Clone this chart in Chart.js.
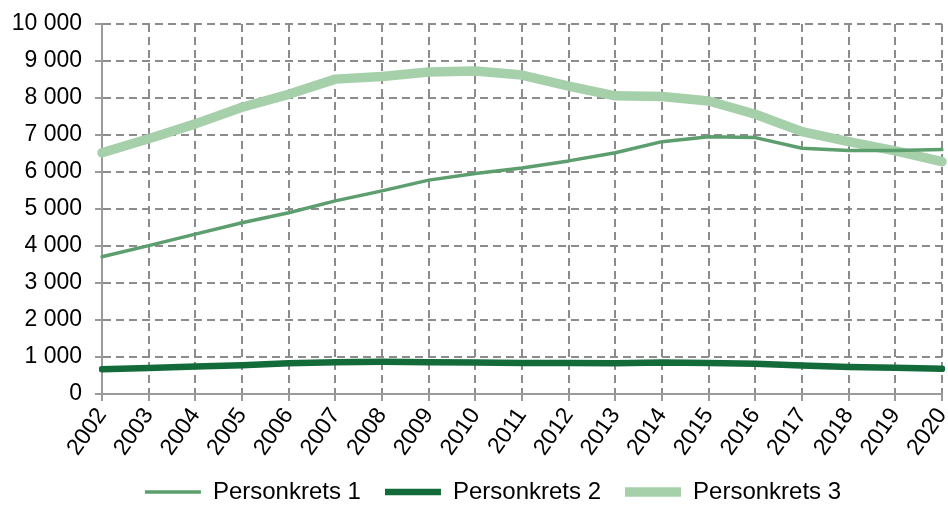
<!DOCTYPE html>
<html>
<head>
<meta charset="utf-8">
<script src="https://cdn.jsdelivr.net/npm/chart.js"></script>
<style>
  html, body { margin: 0; padding: 0; background: #fff; overflow: hidden; }
  #wrap { width: 948px; height: 505px; }
</style>
</head>
<body>
<div id="wrap"><canvas id="c" width="948" height="505"></canvas></div>
<script>
// ---- dados ----
const years = ["2002","2003","2004","2005","2006","2007","2008","2009","2010","2011",
               "2012","2013","2014","2015","2016","2017","2018","2019","2020"];

const personkrets1 = [3710, 4010, 4320, 4630, 4900, 5220, 5490, 5780, 5960, 6110,
                      6300, 6520, 6820, 6950, 6930, 6640, 6580, 6580, 6610];
const personkrets2 = [670, 700, 740, 780, 830, 860, 870, 860, 850, 840,
                      840, 830, 850, 840, 820, 770, 730, 710, 680];
const personkrets3 = [6520, 6900, 7300, 7750, 8100, 8510, 8580, 8700, 8730, 8620,
                      8320, 8060, 8040, 7920, 7560, 7090, 6820, 6570, 6280];

const yTicks = [0, 1000, 2000, 3000, 4000, 5000, 6000, 7000, 8000, 9000, 10000];

const FONT = "'Liberation Sans', Arial, sans-serif";
const gridColor = "#8c8c8c";
const axisColor = "#9a9a9a";

function fmt(v) {
  return String(v).replace(/\B(?=(\d{3})+(?!\d))/g, " ");
}

function serie(label, data, color, width) {
  return {
    label: label,
    data: data,
    borderColor: color,
    backgroundColor: color,
    borderWidth: width,
    borderCapStyle: "round",
    borderJoinStyle: "round",
    pointRadius: 0,
    pointHoverRadius: 0,
    pointStyle: "line",
    tension: 0,
    fill: false,
  };
}

const gridOpts = {
  color: gridColor,
  lineWidth: 2,
  drawTicks: true,
  tickLength: 7,
  tickColor: axisColor,
  tickBorderDash: [],
  tickWidth: 2,
};

// legenda um pouco deslocada para a direita, como no original
const legendShift = {
  id: "legendShift",
  afterLayout(chart) {
    if (chart.legend) {
      chart.legend.left += 22;
      chart.legend.right += 22;
    }
  },
};

new Chart(document.getElementById("c").getContext("2d"), {
  type: "line",
  data: {
    labels: years,
    datasets: [
      serie("Personkrets 1", personkrets1, "#5c9e6e", 3.5),
      serie("Personkrets 2", personkrets2, "#146b3a", 6.5),
      serie("Personkrets 3", personkrets3, "#a6d0aa", 9.5),
    ],
  },
  plugins: [legendShift],
  options: {
    responsive: false,
    animation: false,
    layout: { padding: { top: 24, right: 6, left: 0, bottom: -9 } },
    plugins: {
      tooltip: { enabled: false },
      legend: {
        position: "bottom",
        labels: {
          usePointStyle: true,
          pointStyleWidth: 56,
          padding: 24,
          color: "#000",
          font: { family: FONT, size: 24 },
        },
      },
    },
    scales: {
      x: {
        offset: false,
        afterFit: (s) => { s.height = 62; s.paddingLeft = 0; s.paddingRight = 0; },
        grid: gridOpts,
        border: { display: true, color: axisColor, width: 2, dash: [8, 5] },
        ticks: {
          color: "#000",
          font: { family: FONT, size: 23 },
          minRotation: 55,
          maxRotation: 55,
          autoSkip: false,
          padding: 2,
        },
      },
      y: {
        min: 0,
        max: 10000,
        afterFit: (s) => { s.width = 102; s.paddingTop = 0; s.paddingBottom = 0; },
        afterBuildTicks: (s) => { s.ticks = yTicks.map(v => ({ value: v })); },
        grid: gridOpts,
        border: { display: true, color: axisColor, width: 2, dash: [8, 5] },
        ticks: {
          color: "#000",
          font: { family: FONT, size: 23 },
          padding: 13,
          callback: (v) => fmt(v),
        },
      },
    },
  },
});
</script>
</body>
</html>
